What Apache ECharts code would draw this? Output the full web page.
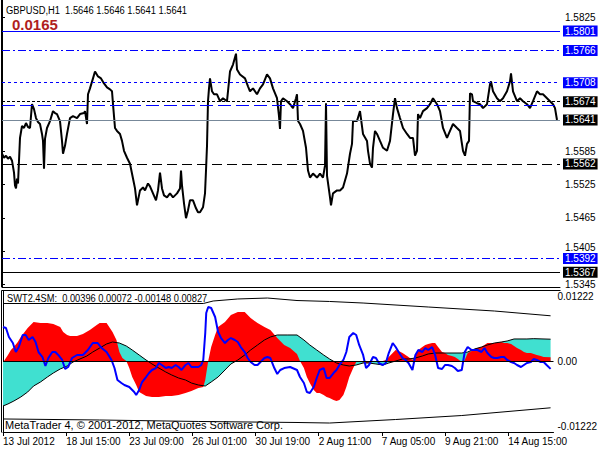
<!DOCTYPE html>
<html><head><meta charset="utf-8">
<script src="https://cdn.jsdelivr.net/npm/echarts@6/dist/echarts.min.js"></script>
<style>html,body{margin:0;padding:0;background:#fff}#c{width:600px;height:450px}</style>
</head><body><div id="c"></div>
<script>
// ---- data ----
const priceTicks = [1.5825, 1.5585, 1.5525, 1.5465, 1.5405, 1.5345];
const timeTickIdx = [0, 64, 128, 192, 256, 320, 384, 448, 512];
const timeLabels = ["13 Jul 2012","18 Jul 15:00","23 Jul 09:00","26 Jul 01:00","30 Jul 19:00","2 Aug 11:00","7 Aug 05:00","9 Aug 21:00","14 Aug 15:00"];
const indTicks = [0.01222, 0, -0.01222];

// [bar index, price]
const price = [
[0,1.55803],[2,1.55731],[4,1.55767],[6,1.55714],[8,1.55749],[10,1.55678],[12,1.55464],[13,1.55232],[14,1.55179],[15,1.55357],[16,1.55268],[17,1.55678],[18,1.56088],[20,1.56302],[22,1.56266],[24,1.56355],[26,1.56284],[28,1.56266],[30,1.56694],[32,1.56605],[34,1.56444],[36,1.56373],[38,1.56338],[40,1.56159],[41,1.56034],[42,1.55535],[43,1.56070],[45,1.56266],[48,1.56391],[51,1.56569],[53,1.56534],[55,1.56516],[58,1.56391],[60,1.56034],[61,1.55803],[63,1.55945],[65,1.56159],[68,1.56444],[71,1.56480],[75,1.56444],[78,1.56516],[82,1.56534],[83,1.56569],[85,1.56338],[86,1.56872],[88,1.56979],[91,1.57158],[93,1.57282],[96,1.57193],[99,1.57158],[102,1.57068],[105,1.56997],[108,1.56961],[110,1.56926],[111,1.56694],[113,1.56266],[115,1.56213],[118,1.56159],[120,1.56034],[122,1.55856],[125,1.55731],[128,1.55624],[131,1.55357],[133,1.55179],[135,1.54876],[137,1.55054],[138,1.55143],[141,1.55197],[143,1.55143],[146,1.55268],[148,1.55215],[151,1.55090],[154,1.54965],[156,1.55143],[158,1.55464],[160,1.55179],[162,1.55054],[165,1.55018],[168,1.55090],[171,1.55018],[175,1.55090],[178,1.55179],[179,1.55500],[180,1.55232],[182,1.54912],[184,1.54644],[186,1.54787],[188,1.54965],[191,1.54965],[194,1.54822],[196,1.54751],[198,1.54751],[201,1.54840],[203,1.55090],[204,1.55500],[205,1.55945],[206,1.56748],[207,1.56979],[208,1.57158],[210,1.56926],[212,1.56872],[215,1.56872],[218,1.56748],[221,1.56801],[225,1.56748],[228,1.57282],[231,1.57407],[234,1.57603],[235,1.57318],[238,1.57229],[243,1.57158],[246,1.57015],[248,1.56926],[251,1.56979],[255,1.56872],[258,1.56979],[261,1.57051],[265,1.57229],[268,1.57158],[271,1.56979],[275,1.56801],[277,1.56480],[278,1.56248],[279,1.56748],[281,1.56801],[285,1.56748],[288,1.56694],[291,1.56623],[294,1.56801],[295,1.56872],[296,1.56391],[298,1.56338],[301,1.56213],[304,1.55910],[306,1.55500],[308,1.55375],[311,1.55446],[315,1.55375],[318,1.55446],[321,1.55375],[323,1.55589],[324,1.56712],[325,1.55411],[328,1.55018],[329,1.54876],[331,1.55090],[335,1.55143],[338,1.55143],[341,1.55197],[345,1.55446],[348,1.55803],[350,1.55981],[351,1.56391],[355,1.56391],[358,1.56569],[361,1.56159],[365,1.56034],[366,1.55856],[368,1.55624],[370,1.55553],[371,1.55910],[373,1.56213],[375,1.56159],[378,1.56034],[381,1.55910],[385,1.55856],[388,1.56034],[391,1.56516],[393,1.56801],[395,1.56623],[398,1.56444],[401,1.56266],[405,1.56159],[408,1.56088],[411,1.56088],[413,1.55767],[415,1.55856],[416,1.56516],[418,1.56444],[421,1.56569],[425,1.56623],[428,1.56694],[431,1.56801],[435,1.56694],[438,1.56569],[441,1.56266],[445,1.56088],[448,1.56213],[451,1.56338],[455,1.56266],[458,1.56213],[461,1.55856],[463,1.55767],[465,1.55981],[467,1.56034],[468,1.56890],[470,1.56872],[471,1.56748],[475,1.56712],[478,1.56694],[481,1.56623],[485,1.56694],[488,1.57051],[489,1.57104],[491,1.56926],[495,1.56801],[498,1.56748],[501,1.56801],[505,1.56926],[508,1.57104],[509,1.57247],[511,1.56926],[515,1.56748],[518,1.56801],[521,1.56748],[525,1.56694],[528,1.56623],[531,1.56748],[535,1.56926],[538,1.56872],[541,1.56872],[545,1.56801],[548,1.56748],[551,1.56694],[553,1.56623],[555,1.56410]
];

// horizontal levels
const levelValues = [1.5801, 1.5766, 1.5708, 1.5674, 1.56676, 1.5641, 1.5562, 1.5392, 1.5367];
const levelLabels = ["1.5801","1.5766","1.5708","1.5674","","1.5641","1.5562","1.5392","1.5367"];

// indicator buffers [bar index, value]
const redCurve = [
[0,-0.00019],[1,0],[5,0.00113],[8,0.00207],[11,0.00263],[15,0.00357],[18,0.00451],[25,0.00620],[31,0.00733],[38,0.00714],[45,0.00714],[51,0.00696],[58,0.00639],[61,0.00545],[65,0.00489],[68,0.00470],[75,0.00470],[81,0.00508],[88,0.00583],[95,0.00677],[98,0.00714],[105,0.00714],[111,0.00545],[115,0.00395],[118,0.00169],[121,0.00056],[125,0],[128,-0.00132],[131,-0.00301],[135,-0.00451],[138,-0.00583],[145,-0.00658],[151,-0.00677],[158,-0.00677],[165,-0.00658],[171,-0.00658],[178,-0.00639],[185,-0.00602],[191,-0.00564],[198,-0.00508],[203,-0.00489],[205,-0.00357],[208,0],[211,0.00263],[215,0.00489],[218,0.00639],[225,0.00733],[231,0.00865],[238,0.00921],[245,0.00921],[251,0.00808],[258,0.00714],[265,0.00639],[271,0.00583],[278,0.00432],[285,0.00301],[291,0.00244],[298,0.00132],[301,0],[305,-0.00132],[308,-0.00301],[311,-0.00414],[315,-0.00545],[318,-0.00602],[321,-0.00602],[325,-0.00639],[328,-0.00677],[331,-0.00696],[335,-0.00733],[338,-0.00752],[341,-0.00733],[345,-0.00639],[348,-0.00489],[351,-0.00301],[355,-0.00132],[358,-0.00019],[363,-0.00019],[368,-0.00038],[375,-0.00019],[385,0],[388,0.00019],[391,0.00075],[395,0.00150],[398,0.00207],[401,0.00188],[405,0.00150],[408,0.00113],[411,0.00075],[415,0.00019],[418,0.00113],[421,0.00207],[425,0.00263],[428,0.00301],[431,0.00320],[435,0.00338],[438,0.00338],[441,0.00263],[445,0.00169],[448,0.00150],[451,0.00113],[455,0.00094],[458,0.00075],[461,0.00038],[465,-0.00019],[466,-0.00038],[468,0.00019],[471,0.00150],[475,0.00188],[478,0.00226],[481,0.00244],[485,0.00263],[488,0.00301],[491,0.00338],[495,0.00338],[501,0.00338],[505,0.00357],[508,0.00338],[511,0.00338],[515,0.00320],[518,0.00282],[521,0.00244],[525,0.00207],[528,0.00169],[531,0.00150],[535,0.00150],[538,0.00132],[541,0.00113],[545,0.00094],[548,0.00075],[555,0.00072]
];
const slowCurve = [
[0,-0.00846],[5,-0.00808],[11,-0.00752],[18,-0.00677],[25,-0.00583],[31,-0.00470],[38,-0.00395],[45,-0.00301],[51,-0.00226],[58,-0.00150],[65,-0.00094],[71,-0.00019],[78,0.00038],[85,0.00094],[91,0.00169],[98,0.00244],[105,0.00320],[111,0.00357],[118,0.00338],[125,0.00282],[131,0.00207],[138,0.00113],[145,0.00019],[151,-0.00056],[158,-0.00132],[165,-0.00207],[171,-0.00263],[178,-0.00320],[185,-0.00357],[191,-0.00414],[198,-0.00451],[205,-0.00470],[211,-0.00395],[218,-0.00301],[225,-0.00169],[231,-0.00056],[238,0.00019],[245,0.00113],[251,0.00207],[258,0.00301],[265,0.00395],[271,0.00451],[278,0.00489],[288,0.00489],[298,0.00489],[305,0.00395],[311,0.00301],[318,0.00207],[325,0.00113],[331,0.00038],[338,-0.00038],[345,-0.00075],[351,-0.00094],[358,-0.00075],[365,-0.00038],[371,-0.00038],[378,-0.00056],[385,-0.00075],[391,-0.00038],[398,0],[405,0.00038],[411,0.00038],[418,0.00056],[425,0.00094],[431,0.00132],[438,0.00150],[465,0.00150],[471,0.00169],[478,0.00226],[485,0.00263],[491,0.00301],[498,0.00338],[505,0.00357],[511,0.00376],[518,0.00414],[531,0.00414],[538,0.00420],[555,0.00410]
];
const blueCurve = [
[0,0.00639],[3,0.00620],[6,0.00451],[10,0.00338],[13,0.00169],[16,0.00263],[20,0.00489],[23,0.00489],[26,0.00395],[30,0.00451],[33,0.00357],[36,0.00169],[40,0.00075],[43,-0.00094],[46,0.00056],[50,0.00169],[53,0.00169],[56,0.00113],[60,0.00019],[63,-0.00150],[66,-0.00113],[70,0.00056],[75,0.00113],[81,0.00113],[86,0.00207],[91,0.00338],[96,0.00338],[100,0.00244],[105,0.00169],[110,0.00019],[113,-0.00132],[116,-0.00357],[120,-0.00414],[123,-0.00451],[128,-0.00489],[133,-0.00583],[135,-0.00639],[138,-0.00545],[141,-0.00395],[145,-0.00301],[148,-0.00226],[151,-0.00169],[155,-0.00132],[158,-0.00038],[161,-0.00075],[165,-0.00132],[168,-0.00113],[171,-0.00132],[175,-0.00075],[178,-0.00113],[181,-0.00169],[185,-0.00075],[188,-0.00038],[191,-0.00113],[195,-0.00113],[198,-0.00113],[201,-0.00075],[203,0.00019],[205,0.00526],[206,0.00902],[208,0.01015],[211,0.00996],[215,0.00827],[218,0.00545],[221,0.00432],[225,0.00338],[228,0.00395],[231,0.00432],[235,0.00395],[238,0.00357],[241,0.00263],[245,0.00169],[248,0.00056],[251,-0.00019],[255,-0.00075],[258,-0.00075],[261,-0.00019],[265,0.00056],[268,0.00075],[271,0.00056],[275,-0.00132],[278,-0.00244],[281,-0.00169],[285,-0.00132],[291,-0.00113],[298,-0.00169],[301,-0.00301],[305,-0.00414],[308,-0.00583],[311,-0.00602],[315,-0.00489],[318,-0.00320],[321,-0.00169],[325,-0.00132],[328,-0.00320],[331,-0.00320],[335,-0.00226],[338,-0.00169],[341,-0.00075],[345,0.00019],[348,0.00169],[351,0.00451],[355,0.00526],[358,0.00489],[361,0.00301],[365,0.00113],[368,-0.00132],[371,-0.00075],[375,0.00075],[378,0.00056],[381,-0.00038],[385,-0.00075],[388,-0.00038],[391,0.00150],[395,0.00338],[398,0.00263],[401,0.00169],[405,0.00056],[408,0.00019],[411,-0.00038],[415,-0.00169],[418,0.00113],[421,0.00207],[425,0.00169],[428,0.00244],[431,0.00207],[435,0.00263],[438,0.00113],[441,-0.00132],[445,-0.00150],[448,-0.00075],[451,-0.00075],[455,-0.00094],[458,-0.00132],[461,-0.00188],[465,-0.00169],[468,0.00169],[471,0.00263],[475,0.00207],[478,0.00207],[481,0.00207],[485,0.00169],[488,0.00244],[491,0.00150],[495,0.00075],[498,0.00056],[501,0.00056],[505,0.00075],[508,0.00075],[511,0.00019],[515,-0.00019],[518,-0.00038],[521,-0.00075],[525,-0.00113],[528,-0.00075],[531,-0.00038],[535,-0.00019],[538,0.00038],[541,0.00019],[545,-0.00019],[548,-0.00019],[551,-0.00075],[555,-0.00148]
];
const upperBand = [[0,0.01081],[100,0.01081],[203,0.01081],[213,0.01128],[238,0.01166],[268,0.01184],[298,0.01137],[331,0.01119],[365,0.01090],[431,0.01015],[498,0.00940],[555,0.00850]];
const lowerBand = [[0,-0.01090],[98,-0.01109],[198,-0.01137],[298,-0.01156],[331,-0.01166],[398,-0.01100],[465,-0.01025],[555,-0.00880]];

// ---- chart ----
const FONT = "'Liberation Sans',Arial,sans-serif";
const BLUE = '#0000ff';
const levelStyles = [
  {color: BLUE, type: 'solid', bg: BLUE},
  {color: BLUE, type: [8,3,2,3], bg: BLUE},
  {color: BLUE, type: [3,3], bg: BLUE},
  {color: '#000', type: [3,2], bg: '#000'},
  {color: BLUE, type: [13,5], bg: null},
  {color: '#778899', type: 'solid', bg: '#000'},
  {color: '#000', type: [10,5], bg: '#000'},
  {color: BLUE, type: [8,3,2,3], bg: BLUE},
  {color: '#000', type: 'solid', bg: '#000'}
];
const levelData = levelValues.map((v, i) => ({
  yAxis: v,
  lineStyle: {color: levelStyles[i].color, type: levelStyles[i].type, width: 1},
  label: levelStyles[i].bg ? {
    show: true, position: 'end', distance: 3, formatter: levelLabels[i],
    color: '#fff', backgroundColor: levelStyles[i].bg, padding: [1,2,0,2],
    fontSize: 10, fontFamily: FONT, lineHeight: 10
  } : {show: false}
}));

const chart = echarts.init(document.getElementById('c'), null, {renderer: 'svg'});
chart.setOption({
  animation: false,
  backgroundColor: '#fff',
  grid: [
    {left: 2, right: 40, top: 0, bottom: 163},
    {left: 2, right: 40, top: 291, bottom: 18}
  ],
  xAxis: [
    {type: 'value', gridIndex: 0, min: 0, max: 558,
     axisLine: {show: true, onZero: false, lineStyle: {color: '#000'}},
     axisTick: {show: false}, axisLabel: {show: false}, splitLine: {show: false}},
    {type: 'value', gridIndex: 1, min: 0, max: 558,
     axisLine: {show: true, onZero: false, lineStyle: {color: '#000'}},
     axisTick: {show: true, length: 4, customValues: timeTickIdx, lineStyle: {color: '#000'}},
     axisLabel: {show: true, customValues: timeTickIdx, align: 'left', margin: 4,
       color: '#000', fontSize: 10, fontFamily: FONT,
       formatter: v => { const k = timeTickIdx.indexOf(Math.round(v)); return k >= 0 ? timeLabels[k] : ''; }},
     splitLine: {show: false}}
  ],
  yAxis: [
    {type: 'value', gridIndex: 0, position: 'right', min: 1.53406, max: 1.58568,
     axisLine: {show: true, lineStyle: {color: '#000'}},
     axisTick: {show: true, length: 3, customValues: priceTicks, lineStyle: {color: '#000'}},
     axisLabel: {show: true, customValues: priceTicks, margin: 5, color: '#000', fontSize: 10, fontFamily: FONT,
       formatter: v => Math.abs(v - 1.5405) < 1e-6 ? '{up|' + v.toFixed(4) + '}' : v.toFixed(4),
       rich: {up: {fontSize: 10, fontFamily: FONT, color: '#000', padding: [0,0,8,0]}}},
     splitLine: {show: false}},
    {type: 'value', gridIndex: 1, position: 'right', min: -0.013348, max: 0.01316,
     axisLine: {show: true, lineStyle: {color: '#000'}},
     axisTick: {show: false},
     axisLabel: {show: true, customValues: indTicks, margin: 4, color: '#000', fontSize: 10, fontFamily: FONT,
       formatter: v => Math.abs(v) < 1e-9 ? '0.00' : v.toFixed(5)},
     splitLine: {show: false}}
  ],
  series: [
    {type: 'line', xAxisIndex: 0, yAxisIndex: 0, data: price, showSymbol: false, z: 3,
     lineStyle: {color: '#000', width: 2},
     markLine: {silent: true, symbol: 'none', precision: 5, data: levelData}},
    {type: 'line', xAxisIndex: 1, yAxisIndex: 1, data: slowCurve, showSymbol: false, z: 1,
     lineStyle: {width: 0, opacity: 0}, areaStyle: {color: '#40e0d0', opacity: 1, origin: 'auto'}},
    {type: 'line', xAxisIndex: 1, yAxisIndex: 1, data: redCurve, showSymbol: false, z: 2,
     lineStyle: {width: 0, opacity: 0}, areaStyle: {color: '#ff0000', opacity: 1, origin: 'auto'}},
    {type: 'line', xAxisIndex: 1, yAxisIndex: 1, data: slowCurve, showSymbol: false, z: 3,
     lineStyle: {color: '#000', width: 1},
     markLine: {silent: true, symbol: 'none', precision: 5, label: {show: false},
       data: [{yAxis: 0, lineStyle: {color: '#000', type: 'solid', width: 1}}]}},
    {type: 'line', xAxisIndex: 1, yAxisIndex: 1, data: upperBand, showSymbol: false, z: 3,
     lineStyle: {color: '#000', width: 1}},
    {type: 'line', xAxisIndex: 1, yAxisIndex: 1, data: lowerBand, showSymbol: false, z: 3,
     lineStyle: {color: '#000', width: 1}},
    {type: 'line', xAxisIndex: 1, yAxisIndex: 1, data: blueCurve, showSymbol: false, z: 4,
     lineStyle: {color: BLUE, width: 2}}
  ],
  graphic: [
    {type: 'line', shape: {x1: 1.5, y1: 0, x2: 1.5, y2: 287}, style: {stroke: '#000', lineWidth: 1}, silent: true},
    {type: 'line', shape: {x1: 1.5, y1: 290.5, x2: 560.5, y2: 290.5}, style: {stroke: '#000', lineWidth: 1}, silent: true},
    {type: 'line', shape: {x1: 1.5, y1: 290.5, x2: 1.5, y2: 432.5}, style: {stroke: '#000', lineWidth: 1}, silent: true},
    {type: 'text', x: 6, y: 5, scaleX: 0.85, silent: true,
     style: {text: 'GBPUSD,H1\u00a0\u00a01.5646 1.5646 1.5641 1.5641', fill: '#000', fontSize: 11, fontFamily: FONT}},
    {type: 'text', x: 12, y: 17, silent: true,
     style: {text: '0.0165', fill: '#b01e1e', fontSize: 15, fontWeight: 'bold', fontFamily: FONT}},
    {type: 'text', x: 7, y: 293, z: 10, scaleX: 0.845, silent: true,
     style: {text: 'SWT2.4SM:\u00a0\u00a00.00396 0.00072 -0.00148 0.00827', fill: '#000', fontSize: 11, fontFamily: FONT}},
    {type: 'text', x: 5, y: 419, z: 10, silent: true,
     style: {text: 'MetaTrader 4, \u00a9 2001-2012, MetaQuotes Software Corp.', fill: '#000', fontSize: 11, fontFamily: FONT}}
  ]
});
</script>
</body></html>
